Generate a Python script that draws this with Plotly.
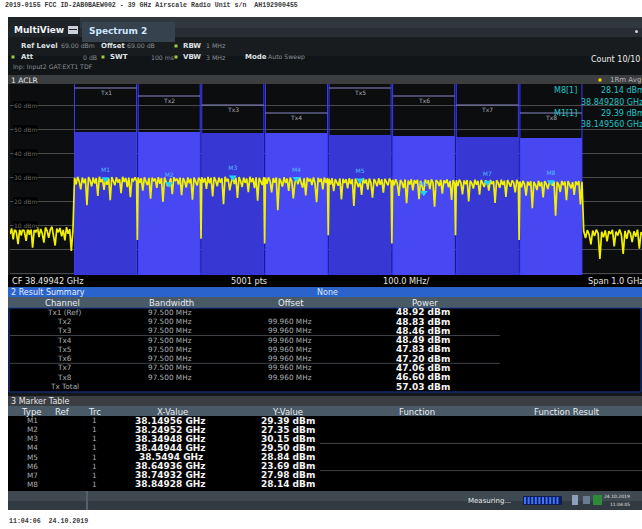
import numpy as np
import plotly.graph_objects as go

W, H = 642, 529
FONT = "DejaVu Sans"

# ---------------- instrument settings / data ----------------
CENTER_FREQ_GHZ = 38.49942
SPAN_GHZ = 1.0
REF_LEVEL_DBM = 69.0
BOTTOM_LEVEL_DBM = -10.6
CHANNEL_BW_GHZ = 0.0975
GRID_LABELS_DBM = [60, 50, 40, 30, 20, 10]

CHANNEL_NAMES = ["Tx1", "Tx2", "Tx3", "Tx4", "Tx5", "Tx6", "Tx7", "Tx8"]
CHANNEL_CENTER_GHZ = [38.14956, 38.24952, 38.34948, 38.44944, 38.5494, 38.64936, 38.74932, 38.84928]
CHANNEL_POWER_DBM = [48.92, 48.83, 48.46, 48.49, 47.83, 47.20, 47.06, 46.60]
TOTAL_POWER_DBM = 57.03

RESULT_ROWS = ["Tx1 (Ref)", "Tx2", "Tx3", "Tx4", "Tx5", "Tx6", "Tx7", "Tx8"]
RESULT_BANDWIDTH = ["97.500 MHz"] * 8
RESULT_OFFSET = ["", "99.960 MHz", "99.960 MHz", "99.960 MHz", "99.960 MHz",
                 "99.960 MHz", "99.960 MHz", "99.960 MHz"]

MARKER_NAMES = ["M1", "M2", "M3", "M4", "M5", "M6", "M7", "M8"]
MARKER_FREQ_GHZ = [38.14956, 38.24952, 38.34948, 38.44944, 38.5494, 38.64936, 38.74932, 38.84928]
MARKER_LEVEL_DBM = [29.39, 27.35, 30.15, 29.50, 28.84, 23.69, 27.98, 28.14]

# trace samples (dBm), segment by segment
LEFT_NOISE = [6.5, 8.8, 4.2, 9.1, 6.9, 2.3, 8.4, 5.8, 9.3, 7.1, 3.6, 8.9, 6.2, 9.0, 0.8, 8.1,
              7.4, 9.4, 5.2, 8.6, 6.7, 2.9, 9.2, 7.8, 4.9, 8.3, 9.5, 6.1, 1.7, 8.7, 7.2, 9.0,
              5.5, 8.2, 3.8, 9.3, 6.6, 8.5, -0.6, 7.9]
TX1_TRACE = [29.9, 27.2, 30.3, 28.4, 25.1, 30.0, 27.7, 29.6, 18.5, 30.2,
             28.9, 26.3, 30.1, 27.5, 29.8, 22.4, 30.3, 28.1, 29.5, 24.9, 29.39,
             27.0, 29.7, 20.6, 30.2, 28.6, 26.8, 30.1, 27.9, 29.4, 23.5,
             30.3, 28.2, 29.9, 26.0, 30.0, 21.8, 29.6, 28.7, 30.1, 28.5]
TX2_TRACE = [30.0, 27.8, 29.7, 24.6, 30.1, 28.3, 26.9, 29.9, 21.2, 30.0,
             28.5, 29.6, 25.7, 30.2, 27.4, 29.8, 19.9, 30.0, 28.0, 26.5, 27.35,
             29.7, 23.1, 30.1, 28.8, 29.5, 27.1, 30.0, 22.7, 29.8, 28.4,
             25.9, 30.1, 27.6, 29.6, 20.8, 30.0, 28.2, 26.7, 29.9, 28.9]
TX3_TRACE = [30.1, 28.0, 29.8, 25.3, 30.3, 27.6, 29.9, 22.1, 30.2, 28.7,
             26.4, 30.0, 27.9, 29.7, 18.9, 30.3, 28.4, 29.5, 24.7, 28.1, 30.15,
             27.3, 29.9, 21.5, 30.2, 28.6, 26.1, 30.0, 27.8, 29.6, 23.9,
             30.3, 28.1, 29.8, 25.6, 30.1, 20.4, 29.9, 28.3, 27.0, 30.2]
TX4_TRACE = [29.9, 27.4, 30.1, 28.6, 23.8, 29.8, 27.9, 30.0, 16.4, 29.7,
             28.3, 26.2, 30.1, 27.7, 29.6, 24.5, 30.0, 28.5, 21.3, 27.9, 29.50,
             27.2, 30.1, 28.0, 25.8, 29.8, 22.6, 30.0, 28.4, 29.5, 26.9,
             30.1, 27.5, 19.7, 29.9, 28.2, 29.6, 25.1, 30.0, 27.8, 29.7]
TX5_TRACE = [29.5, 27.1, 29.7, 24.3, 29.4, 28.0, 26.6, 29.6, 20.9, 29.5,
             27.8, 29.3, 25.5, 29.7, 27.3, 29.4, 18.2, 29.6, 28.1, 26.0, 28.84,
             22.8, 29.7, 27.6, 29.2, 25.0, 29.6, 27.9, 21.6, 29.4, 28.2,
             26.4, 29.7, 27.0, 29.3, 23.7, 29.5, 27.7, 26.8, 29.6, 28.3]
TX6_TRACE = [29.1, 26.8, 29.3, 27.5, 22.4, 29.0, 27.9, 25.6, 29.2, 19.3,
             28.8, 27.1, 29.3, 24.7, 28.9, 27.6, 29.1, 21.0, 28.7, 26.3, 23.69,
             29.2, 27.4, 28.9, 25.2, 29.3, 27.8, 17.9, 29.0, 28.2, 26.5,
             29.1, 23.3, 28.8, 27.7, 29.2, 25.9, 28.6, 20.7, 29.0, 27.3]
TX7_TRACE = [28.9, 26.5, 29.1, 27.8, 23.0, 28.8, 27.2, 29.0, 20.1, 28.7,
             27.6, 25.4, 29.1, 27.0, 28.6, 22.9, 29.0, 27.7, 26.1, 28.8, 27.98,
             24.6, 29.0, 27.3, 28.5, 19.4, 28.9, 27.8, 25.7, 29.1, 26.9,
             28.7, 21.9, 29.0, 27.4, 26.2, 28.8, 27.9, 23.8, 29.1, 27.6]
TX8_TRACE = [28.4, 26.0, 28.6, 27.1, 22.5, 28.3, 26.7, 28.5, 17.2, 28.2,
             27.0, 24.8, 28.6, 26.4, 28.1, 21.7, 28.5, 27.3, 25.2, 28.0, 28.14,
             26.6, 28.4, 14.1, 28.2, 27.1, 24.0, 28.6, 26.8, 28.3, 20.6,
             28.5, 27.2, 25.5, 28.1, 22.8, 28.4, 26.9, 28.6, 18.8, 28.2]
GAP_DIPS = [4.0, 4.5, 2.5, 6.0, 2.5, 6.0, 4.0]
RIGHT_NOISE = [7.6, 4.8, 8.1, 6.3, 2.2, 7.9, 5.7, 8.3, 6.8, -3.9, 7.4, 5.1, 8.0, 3.4, 7.7, 6.5,
               8.2, 1.3, 7.5, 5.9, 8.4, 6.2, -1.8, 7.8, 4.5, 8.1, 6.9, 3.1, 7.6, 5.4, 8.3, 0.4,
               7.3, 6.0, 8.0, 4.1]
CHANNEL_TRACES = [TX1_TRACE, TX2_TRACE, TX3_TRACE, TX4_TRACE,
                  TX5_TRACE, TX6_TRACE, TX7_TRACE, TX8_TRACE]

# ---------------- geometry helpers (pixel -> paper) ----------------
def PX(x):
    return x / W


def PY(y):
    return 1 - y / H


PLOT_L, PLOT_R, PLOT_T, PLOT_B = 10, 642, 84, 275
VISIBLE_FRAC = 632 / 636.5

start = CENTER_FREQ_GHZ - SPAN_GHZ / 2
stop = CENTER_FREQ_GHZ + SPAN_GHZ / 2
ch_lo = [c - CHANNEL_BW_GHZ / 2 for c in CHANNEL_CENTER_GHZ]
ch_hi = [c + CHANNEL_BW_GHZ / 2 for c in CHANNEL_CENTER_GHZ]

# assemble trace on the sweep grid
fx, fy = [], []
fx += list(np.linspace(start, ch_lo[0], len(LEFT_NOISE) + 1)[:-1])
fy += LEFT_NOISE
for k, seg in enumerate(CHANNEL_TRACES):
    fx += list(np.linspace(ch_lo[k], ch_hi[k], len(seg)))
    fy += seg
    if k < len(GAP_DIPS):
        fx.append((ch_hi[k] + ch_lo[k + 1]) / 2)
        fy.append(GAP_DIPS[k])
fx += list(np.linspace(ch_hi[-1], stop, len(RIGHT_NOISE) + 1)[1:])
fy += RIGHT_NOISE

fig = go.Figure()

# channel power blocks
BLOCK_COLORS = ["#3737d4", "#4848f2"] * 4
fig.add_trace(go.Bar(
    x=CHANNEL_CENTER_GHZ,
    y=[p - BOTTOM_LEVEL_DBM for p in CHANNEL_POWER_DBM],
    base=BOTTOM_LEVEL_DBM,
    width=CHANNEL_BW_GHZ,
    marker=dict(color=BLOCK_COLORS, line=dict(width=0)),
    hoverinfo="skip",
))

# channel boundary lines
bx, by = [], []
for lo_, hi_ in zip(ch_lo, ch_hi):
    for v in (lo_, hi_):
        bx += [v, v, None]
        by += [BOTTOM_LEVEL_DBM, REF_LEVEL_DBM, None]
fig.add_trace(go.Scatter(x=bx, y=by, mode="lines", line=dict(color="#3a3aff", width=1),
                         hoverinfo="skip"))

# spectrum trace
fig.add_trace(go.Scatter(x=fx, y=fy, mode="lines", line=dict(color="#f2f200", width=1.7),
                         hoverinfo="skip"))

# markers
fig.add_trace(go.Scatter(
    x=MARKER_FREQ_GHZ, y=MARKER_LEVEL_DBM, mode="markers+text",
    marker=dict(symbol="triangle-down", size=7, color="#1ed2ff"),
    text=MARKER_NAMES, textposition="top center",
    textfont=dict(size=6, color="#55b8ff", family=FONT),
    hoverinfo="skip",
))

shapes = []
ann = []


def rect(x0, y0, x1, y1, fill, line=None, layer="below"):
    shapes.append(dict(type="rect", xref="paper", yref="paper",
                       x0=PX(x0), x1=PX(x1), y0=PY(y1), y1=PY(y0),
                       fillcolor=fill, layer=layer,
                       line=dict(width=1 if line else 0, color=line or fill)))


def hline(x0, x1, y, color, width=1, layer="below"):
    shapes.append(dict(type="line", xref="paper", yref="paper",
                       x0=PX(x0), x1=PX(x1), y0=PY(y), y1=PY(y),
                       line=dict(color=color, width=width), layer=layer))


def text(x, y, s, size=7.5, color="#cfd4d8", anchor="left", bold=False, family=FONT, bg=None):
    if bold:
        s = "<b>" + s + "</b>"
    d = dict(x=PX(x), y=PY(y), xref="paper", yref="paper", text=s, showarrow=False,
             xanchor=anchor, yanchor="middle", borderpad=0,
             font=dict(size=size, color=color, family=family))
    if bg:
        d["bgcolor"] = bg
    ann.append(d)


# ---------- background panels ----------
rect(8, 17, 642, 510, "#0b0d0f")
rect(8, 17, 642, 28, "#30373d")
rect(8, 28, 642, 37, "#272d32")
rect(8, 17, 80, 42, "#1f2428")
rect(8, 37, 642, 56, "#181c1f")
rect(8, 56, 642, 75, "#121517")
rect(82, 22, 175, 42, "#36434f")
rect(8, 75, 642, 84, "#3b3d3f")
rect(8, 84, 10, 275, "#1a1a1a")
rect(8, 275, 642, 287, "#000000")
rect(8, 287, 642, 297, "#2b63cc")
rect(8, 297, 642, 308, "#4a5966")
rect(9, 308, 641, 392, "#000000", line="#1d3c99")
rect(8, 393, 642, 396, "#15181b")
rect(8, 396, 642, 406, "#3a3e42")
rect(8, 406, 642, 416, "#4a5966")
rect(8, 416, 642, 491, "#000000")
rect(8, 491, 642, 501, "#3f4951")
rect(8, 501, 642, 510, "#323a41")
rect(86, 491, 88, 510, "#55606a")

# top caption / footer
text(4, 6, "2019-0155 FCC ID-2AB0BAEW002 - 39 GHz Airscale Radio Unit s/n  AH192900455",
     size=6.6, color="#3a3a3a", bold=True, family="Liberation Mono")
text(8, 521, "11:04:06  24.10.2019", size=6.6, color="#3a3a3a", bold=True, family="Liberation Mono")

# title bar
text(13, 30, "MultiView", size=9, color="#f0f4f8", bold=True)
rect(68, 26, 78, 34, "#c9d2da")
rect(69, 29, 77, 30, "#1f2428")
text(88, 31, "Spectrum 2", size=9, color="#cfe6ff", bold=True)
shapes.append(dict(type="circle", xref="paper", yref="paper", x0=PX(635), x1=PX(638),
                   y0=PY(33), y1=PY(30), fillcolor="#d0d0d0", line=dict(width=0)))

# setting rows
LBL = "#dde2e6"
VAL = "#8a9197"
text(20, 46, "Ref Level", size=7, color=LBL, bold=True)
text(60, 46, "69.00 dBm", size=6.2, color=VAL)
text(100, 46, "Offset", size=7, color=LBL, bold=True)
text(126, 46, "69.00 dB", size=6.2, color=VAL)
text(182, 46, "RBW", size=7, color=LBL, bold=True)
text(205, 46, "1 MHz", size=6.2, color=VAL)
text(20, 57, "Att", size=7, color=LBL, bold=True)
text(98, 57, "0 dB", size=6.2, color=VAL, anchor="right")
text(109, 57, "SWT", size=7, color=LBL, bold=True)
text(150, 57, "100 ms", size=6.2, color=VAL)
text(182, 57, "VBW", size=7, color=LBL, bold=True)
text(205, 57, "3 MHz", size=6.2, color=VAL)
text(244, 57, "Mode", size=7, color=LBL, bold=True)
text(267, 57, "Auto Sweep", size=6.2, color=VAL)
text(12, 67, "Inp: Input2 GAT:EXT1 TDF", size=6.2, color=VAL)
for (dx, dy) in [(13, 57), (103, 57), (176, 46), (176, 57)]:
    rect(dx - 1.5, dy - 1.5, dx + 1.5, dy + 1.5, "#9ccf3a")
text(641, 60, "Count 10/10", size=8, color="#f0f0f0", anchor="right")

# ACLR window bar
text(10, 80, "1 ACLR", size=7.5, color="#e8e8e8")
rect(598.5, 78.5, 601.5, 81.5, "#f0e000")
text(642, 80, "1Rm Avg", size=7, color="#b8b8b8", anchor="right")

# grid labels inside plot
for lv in GRID_LABELS_DBM:
    ann.append(dict(x=PX(13), y=lv, xref="paper", yref="y", text=f"{lv} dBm", showarrow=False,
                    xanchor="left", yanchor="middle", bgcolor="#000000", borderpad=0,
                    font=dict(size=6, color="#6c6c6c", family=FONT)))

# channel label rows (staggered display)
TX_ROW_PX = [88, 96, 105, 113]
for k, name in enumerate(CHANNEL_NAMES):
    ry = TX_ROW_PX[k % 4]
    shapes.append(dict(type="line", xref="x", yref="paper", x0=ch_lo[k], x1=ch_hi[k],
                       y0=PY(ry), y1=PY(ry), line=dict(color="#8a8ac6", width=1), layer="above"))
    ann.append(dict(x=CHANNEL_CENTER_GHZ[k], y=PY(ry + 4.5), xref="x", yref="paper", text=name,
                    showarrow=False, xanchor="center", yanchor="middle",
                    font=dict(size=6, color="#a9a9b4", family=FONT)))

# marker readout
MK = "#22c4c4"
for (idx, yy) in [(7, 91), (0, 113)]:
    text(553, yy, f"{MARKER_NAMES[idx]}[1]", size=8, color=MK)
    text(600, yy, f"{MARKER_LEVEL_DBM[idx]:.2f} dBm", size=8, color=MK)
    text(580, yy + 11, f"{MARKER_FREQ_GHZ[idx]:.6f} GHz", size=8, color=MK)

# footer row under the diagram
text(11, 280.5, f"CF {CENTER_FREQ_GHZ:.5f} GHz", size=8.2, color="#e4e4e4")
text(230, 280.5, "5001 pts", size=8.2, color="#e4e4e4")
text(382, 280.5, f"{SPAN_GHZ * 100:.1f} MHz/", size=8.2, color="#e4e4e4")
text(587, 280.5, f"Span {SPAN_GHZ:.1f} GHz", size=8.2, color="#e4e4e4")

# ---------- result summary ----------
text(10, 292.5, "2 Result Summary", size=8, color="#e6f0ff")
text(328, 292.5, "None", size=8, color="#dfe9ff", anchor="center")
HDR = "#e6ecf0"
text(62, 303, "Channel", size=8.5, color=HDR, anchor="center")
text(172, 303, "Bandwidth", size=8.5, color=HDR, anchor="center")
text(291, 303, "Offset", size=8.5, color=HDR, anchor="center")
text(425, 303, "Power", size=8.5, color=HDR, anchor="center")
ROWC = "#a9aeb2"
ROW0 = 312.3
ROWSTEP = 9.28
for i in range(len(RESULT_ROWS)):
    y = ROW0 + i * ROWSTEP
    text(64, y, RESULT_ROWS[i], size=7.3, color=ROWC, anchor="center")
    text(170, y, RESULT_BANDWIDTH[i], size=7.3, color=ROWC, anchor="center")
    if RESULT_OFFSET[i]:
        text(313, y, RESULT_OFFSET[i], size=7.3, color=ROWC, anchor="right")
    text(423, y, f"{CHANNEL_POWER_DBM[i]:.2f} dBm", size=9, color="#f4f4f4", bold=True, anchor="center")
yt = ROW0 + len(RESULT_ROWS) * ROWSTEP
text(64, yt, "Tx Total", size=7.3, color=ROWC, anchor="center")
text(423, yt, f"{TOTAL_POWER_DBM:.2f} dBm", size=9, color="#f4f4f4", bold=True, anchor="center")
hline(10, 500, ROW0 + 2.5 * ROWSTEP, "#3e4246")
hline(10, 500, ROW0 + 5.5 * ROWSTEP, "#3e4246")

# ---------- marker table ----------
text(10, 401, "3 Marker Table", size=8, color="#e4e4e4")
for lab, xc in [("Type", 31), ("Ref", 62), ("Trc", 95), ("X-Value", 173), ("Y-Value", 287),
                ("Function", 417), ("Function Result", 567)]:
    text(xc, 411.5, lab, size=8.5, color=HDR, anchor="center")
M0 = 420.8
MSTEP = 9.05
for i, nm in enumerate(MARKER_NAMES):
    y = M0 + i * MSTEP
    text(32, y, nm, size=7.3, color=ROWC, anchor="center")
    text(95, y, "1", size=7.3, color=ROWC, anchor="center")
    xs = f"{MARKER_FREQ_GHZ[i]:.5f}".rstrip("0")
    text(171, y, f"{xs} GHz", size=9, color="#f4f4f4", bold=True, anchor="center")
    text(288, y, f"{MARKER_LEVEL_DBM[i]:.2f} dBm", size=9, color="#f4f4f4", bold=True, anchor="center")
hline(320, 642, M0 + 2.5 * MSTEP, "#3e4246")
hline(320, 642, M0 + 5.5 * MSTEP, "#3e4246")

# status bar
text(467, 500.5, "Measuring...", size=7, color="#e8e8e8")
rect(523, 496, 562, 505, "#0e1d55")
for s in range(10):
    rect(524 + s * 3.6, 497, 526 + s * 3.6, 504, "#3f74ff")
rect(572, 495, 578, 505, "#8ea0b8")
rect(583, 496, 590, 504, "#6a7c90")
rect(593, 495, 602, 505, "#2d8a3a")
text(617, 496.5, "24.10.2019", size=4.5, color="#e0e0e0", anchor="center")
text(620, 504.5, "11:04:05", size=4.5, color="#e0e0e0", anchor="center")

fig.update_layout(
    width=W, height=H, autosize=False,
    margin=dict(l=0, r=0, t=0, b=0, pad=0),
    paper_bgcolor="#ffffff", plot_bgcolor="#000000",
    showlegend=False, bargap=0,
    shapes=shapes, annotations=ann,
    xaxis=dict(domain=[PX(PLOT_L), PX(PLOT_R)], range=[start, start + SPAN_GHZ * VISIBLE_FRAC],
               showgrid=False, zeroline=False, showticklabels=False, ticks="", fixedrange=True),
    yaxis=dict(domain=[PY(PLOT_B), PY(PLOT_T)], range=[BOTTOM_LEVEL_DBM, REF_LEVEL_DBM],
               showgrid=True, gridcolor="#4a4a4a", gridwidth=1, dtick=10, tick0=0,
               zeroline=False, showticklabels=False, ticks="", fixedrange=True),
    font=dict(family=FONT),
)

fig.write_html("out.html", config={"displayModeBar": False},
               post_script="document.body.style.margin='0';document.body.style.overflow='hidden';")
